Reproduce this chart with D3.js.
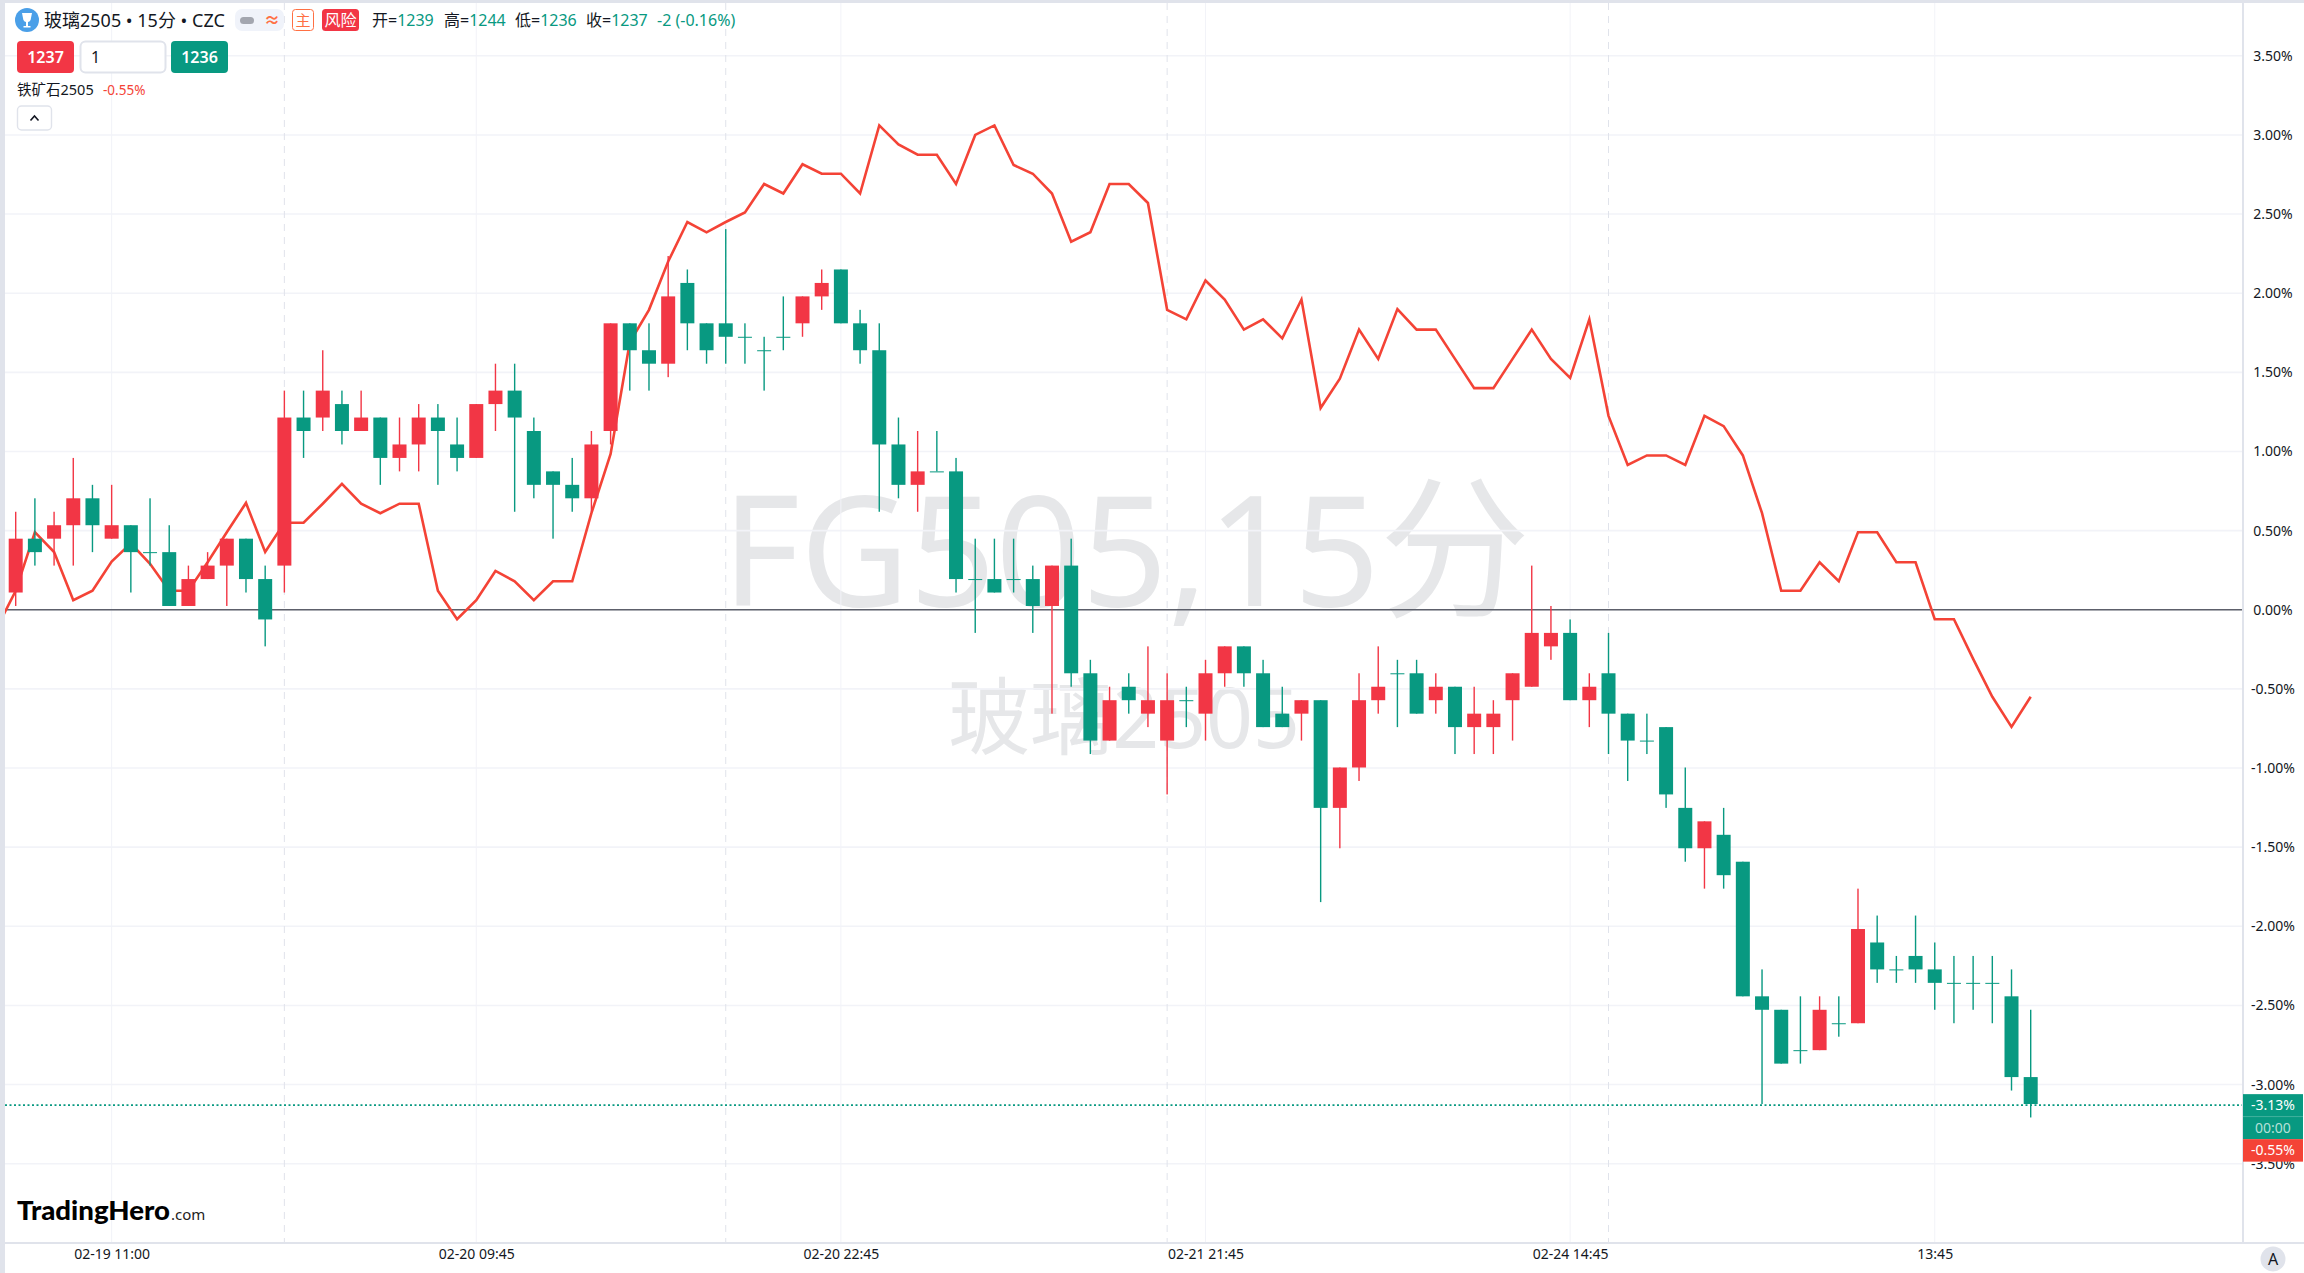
<!DOCTYPE html>
<html>
<head>
<meta charset="utf-8">
<style>
  html, body { margin: 0; padding: 0; background: #fff; }
  svg { display: block; }
  text { font-family: "Noto Sans", "Noto Sans CJK SC", sans-serif; }
</style>
<script src="https://cdn.jsdelivr.net/npm/d3@7"></script>
</head>
<body>
<div id="chart"></div>
<script>
// 玻璃2505 15分 OHLC
const opens = [1275,1279,1279,1280,1282,1279,1280,1278,1278,1274,1276,1277,1279,1276,1277,1288,1288,1289,1287,1288,
  1285,1286,1288,1286,1285,1289,1290,1287,1284,1283,1282,1287,1295,1293,1292,1298,1295,1295,1294,1293,
  1294,1295,1297,1299,1295,1293,1286,1283,1284,1284,1276,1276,1276,1276,1274,1277,1269,1264,1268,1266,
  1264,1267,1266,1269,1271,1269,1266,1266,1267,1259,1262,1267,1269,1269,1267,1268,1265,1265,1267,1268,
  1271,1272,1267,1269,1266,1264,1265,1259,1256,1257,1255,1245,1244,1241,1241,1243,1243,1249,1247,1248,
  1247,1246,1246,1246,1245,1239];
const highs = [1281,1282,1281,1285,1283,1283,1280,1282,1280,1277,1278,1279,1279,1277,1290,1290,1293,1290,1290,1288,
  1288,1289,1289,1288,1289,1292,1292,1288,1284,1285,1287,1295,1295,1295,1300,1299,1295,1302,1295,1294,
  1297,1297,1299,1299,1296,1295,1288,1287,1287,1285,1279,1279,1279,1277,1277,1279,1270,1268,1269,1271,
  1269,1268,1270,1271,1271,1270,1268,1267,1267,1262,1269,1271,1270,1270,1269,1268,1268,1267,1269,1277,
  1274,1273,1269,1272,1266,1266,1265,1262,1258,1259,1255,1247,1244,1245,1245,1245,1253,1251,1248,1251,
  1249,1248,1248,1248,1247,1244];
const lows = [1274,1277,1277,1277,1278,1279,1275,1277,1274,1274,1276,1274,1275,1271,1275,1285,1287,1286,1287,1283,
  1284,1284,1283,1284,1285,1287,1281,1282,1279,1281,1281,1286,1290,1290,1291,1293,1292,1292,1292,1290,
  1293,1294,1296,1295,1292,1281,1282,1281,1284,1275,1272,1275,1275,1272,1266,1268,1263,1264,1266,1265,
  1260,1265,1264,1268,1268,1265,1265,1264,1252,1256,1261,1266,1265,1266,1266,1263,1263,1263,1264,1268,
  1270,1267,1265,1263,1261,1263,1259,1255,1253,1253,1245,1237,1240,1240,1241,1242,1243,1246,1246,1246,
  1244,1243,1244,1243,1238,1236];
const closes = [1279,1278,1280,1282,1280,1280,1278,1278,1274,1276,1277,1279,1276,1273,1288,1287,1290,1287,1288,1285,
  1286,1288,1287,1285,1289,1290,1288,1283,1283,1282,1286,1295,1293,1292,1297,1295,1293,1294,1294,1293,
  1294,1297,1298,1295,1293,1286,1283,1284,1284,1276,1276,1275,1276,1274,1277,1269,1264,1267,1267,1267,
  1267,1267,1269,1271,1269,1265,1265,1267,1259,1262,1267,1268,1269,1266,1268,1265,1266,1266,1269,1272,
  1272,1267,1268,1266,1264,1264,1260,1256,1258,1254,1245,1244,1240,1241,1244,1243,1250,1247,1247,1247,
  1246,1246,1246,1246,1239,1237];

// 铁矿石2505 percent, first value is the bar just left of the visible range
const ironOre = [-0.12,0.12,0.49,0.365,0.06,0.12,0.305,0.42,0.29,0.12,0.12,0.30,0.49,0.675,0.365,0.55,0.55,0.67,0.795,0.67,
  0.61,0.67,0.67,0.12,-0.06,0.06,0.245,0.18,0.06,0.18,0.18,0.61,0.985,1.69,1.895,2.2,2.45,2.385,2.45,2.51,
  2.69,2.63,2.815,2.755,2.755,2.63,3.06,2.94,2.875,2.875,2.69,3.0,3.06,2.81,2.755,2.63,2.325,2.385,2.69,2.69,
  2.57,1.895,1.835,2.08,1.96,1.77,1.835,1.715,1.96,1.275,1.46,1.77,1.585,1.9,1.77,1.77,1.585,1.40,1.40,1.585,
  1.77,1.585,1.465,1.835,1.225,0.915,0.975,0.975,0.915,1.225,1.16,0.975,0.61,0.12,0.12,0.30,0.18,0.49,0.49,0.30,
  0.30,-0.06,-0.06,-0.31,-0.55,-0.74,-0.55];

const pctTicks = [3.5,3,2.5,2,1.5,1,0.5,0,-0.5,-1,-1.5,-2,-2.5,-3,-3.5];
const timeTickBars = [5,24,43,62,81,100];
const timeLabels = ["02-19 11:00","02-20 09:45","02-20 22:45","02-21 21:45","02-24 14:45","13:45"];
const sessionBars = [14,37,60,83];
const lastPct = -3.13, lastComparePct = -0.55;

const width = 2304, height = 1273;
const plotLeft = 5, plotRight = 2242, plotTop = 3, plotBottom = 1242;
const upColor = "#f23645", downColor = "#089981", lineColor = "#f44336", gridColor = "#f2f3f8", borderColor = "#e0e3eb";

const x = d3.scaleLinear().domain([0, 105]).range([15.7, 2030.7]);
const yPct = d3.scaleLinear().domain([3.5, -3.5]).range([55.8, 1163.7]);
const yPrice = d3.scaleLinear().domain([1237, 1277]).range([1104, 565.6]);

const svg = d3.select("#chart").append("svg")
    .attr("width", width)
    .attr("height", height);

svg.append("rect").attr("width", width).attr("height", height).attr("fill", "#fff");

svg.append("defs").append("clipPath").attr("id", "plot")
  .append("rect")
    .attr("x", plotLeft).attr("y", plotTop)
    .attr("width", plotRight - plotLeft).attr("height", plotBottom - plotTop);

const plot = svg.append("g").attr("clip-path", "url(#plot)");

// watermark
plot.append("text")
    .attr("x", 722).attr("y", 606)
    .attr("font-size", 154)
    .attr("textLength", 808).attr("lengthAdjust", "spacingAndGlyphs")
    .attr("fill", "#e6e7e9")
    .text("FG505,15分");
plot.append("text")
    .attr("x", 948).attr("y", 748)
    .attr("font-size", 84)
    .attr("textLength", 352).attr("lengthAdjust", "spacingAndGlyphs")
    .attr("fill", "#e6e7e9")
    .text("玻璃2505");

// grid
plot.selectAll("line.hgrid").data(pctTicks).join("line")
    .attr("class", "hgrid")
    .attr("x1", plotLeft).attr("x2", plotRight)
    .attr("y1", d => yPct(d)).attr("y2", d => yPct(d))
    .attr("stroke", gridColor).attr("stroke-width", 1.6);
plot.selectAll("line.vgrid").data(timeTickBars).join("line")
    .attr("class", "vgrid")
    .attr("x1", d => x(d)).attr("x2", d => x(d))
    .attr("y1", plotTop).attr("y2", plotBottom)
    .attr("stroke", gridColor).attr("stroke-width", 1);
plot.selectAll("line.session").data(sessionBars).join("line")
    .attr("class", "session")
    .attr("x1", d => x(d)).attr("x2", d => x(d))
    .attr("y1", plotTop).attr("y2", plotBottom)
    .attr("stroke", borderColor).attr("stroke-width", 1)
    .attr("stroke-dasharray", "7 6");

plot.append("line")
    .attr("x1", plotLeft).attr("x2", plotRight)
    .attr("y1", yPct(0)).attr("y2", yPct(0))
    .attr("stroke", "#5d606b").attr("stroke-width", 1.3);

// compare line
const line = d3.line().x((d, i) => x(i - 1)).y(d => yPct(d));
plot.append("path")
    .attr("d", line(ironOre))
    .attr("fill", "none")
    .attr("stroke", lineColor)
    .attr("stroke-width", 2.6);

// candles
const candle = plot.selectAll("g.candle").data(closes).join("g").attr("class", "candle");
const barColor = (d, i) => d > opens[i] ? upColor : downColor;
candle.append("rect")
    .attr("x", (d, i) => x(i) - 0.7)
    .attr("width", 1.4)
    .attr("y", (d, i) => yPrice(highs[i]))
    .attr("height", (d, i) => yPrice(lows[i]) - yPrice(highs[i]))
    .attr("fill", barColor);
candle.append("rect")
    .attr("x", (d, i) => x(i) - 7)
    .attr("width", 14)
    .attr("y", (d, i) => yPrice(Math.max(d, opens[i])))
    .attr("height", (d, i) => Math.max(1, yPrice(Math.min(d, opens[i])) - yPrice(Math.max(d, opens[i]))))
    .attr("fill", barColor);

// last price line
plot.append("line")
    .attr("x1", plotLeft).attr("x2", plotRight)
    .attr("y1", yPct(lastPct)).attr("y2", yPct(lastPct))
    .attr("stroke", downColor).attr("stroke-width", 1.6)
    .attr("stroke-dasharray", "2 2.5");

// frame
svg.append("rect").attr("width", width).attr("height", plotTop).attr("fill", borderColor);
svg.append("rect").attr("width", plotLeft).attr("height", height).attr("fill", borderColor);
svg.append("rect").attr("x", plotRight).attr("y", plotTop).attr("width", 2).attr("height", plotBottom - plotTop + 2).attr("fill", borderColor);
svg.append("rect").attr("x", plotLeft).attr("y", plotBottom).attr("width", width - plotLeft).attr("height", 2).attr("fill", borderColor);

// axes
const yAxis = svg.append("g")
    .attr("transform", `translate(${plotRight + 31},0)`)
    .call(d3.axisRight(yPct).tickValues(pctTicks).tickSize(0).tickPadding(0).tickFormat(d => d.toFixed(2) + "%"));
yAxis.select(".domain").remove();
yAxis.selectAll("text")
    .attr("text-anchor", "middle")
    .attr("font-size", 14)
    .attr("fill", "#131722")
    .style("font-family", '"Noto Sans", sans-serif');

const xAxis = svg.append("g")
    .attr("transform", "translate(0,1249)")
    .call(d3.axisBottom(x).tickValues(timeTickBars).tickSize(0).tickPadding(0).tickFormat((d, i) => timeLabels[i]));
xAxis.select(".domain").remove();
xAxis.selectAll("text")
    .attr("font-size", 14)
    .attr("fill", "#131722")
    .style("font-family", '"Noto Sans", sans-serif');

// price tags
const tagX = plotRight + 1, tagW = 60, tagH = 22.5;
const tagMid = yPct(lastPct);
const tags = [
  {label: lastPct.toFixed(2) + "%", y: tagMid - 11, fill: downColor, text: "#fff"},
  {label: "00:00", y: tagMid - 11 + tagH, fill: downColor, text: "#b5e0d8"},
  {label: lastComparePct.toFixed(2) + "%", y: tagMid - 11 + tagH * 2, fill: lineColor, text: "#fff"}
];
const tag = svg.selectAll("g.tag").data(tags).join("g").attr("class", "tag");
tag.append("rect")
    .attr("x", tagX).attr("y", d => d.y)
    .attr("width", tagW).attr("height", tagH)
    .attr("fill", d => d.fill);
tag.append("text")
    .attr("x", tagX + tagW / 2).attr("y", d => d.y + tagH / 2 + 5)
    .attr("text-anchor", "middle")
    .attr("font-size", 14)
    .attr("fill", d => d.text)
    .text(d => d.label);
svg.append("line")
    .attr("x1", tagX).attr("x2", tagX + tagW)
    .attr("y1", tagMid - 11 + tagH).attr("y2", tagMid - 11 + tagH)
    .attr("stroke", "#3bae9a").attr("stroke-width", 0.8);

// auto button
svg.append("circle").attr("cx", 2273).attr("cy", 1259).attr("r", 12.5).attr("fill", borderColor);
svg.append("text")
    .attr("x", 2273).attr("y", 1265)
    .attr("text-anchor", "middle").attr("font-size", 16)
    .attr("fill", "#131722")
    .text("A");

// legend / header
const head = svg.append("g");
head.append("circle").attr("cx", 27).attr("cy", 20).attr("r", 12).attr("fill", "#4a9fe8");
head.append("path")
    .attr("d", "M22 13 H32 L30.6 20 Q29.5 22 28 22 V26 H30.5 V27.5 H23.5 V26 H26 V22 Q24.5 22 23.4 20 Z")
    .attr("fill", "#fff");
head.append("text")
    .attr("x", 44).attr("y", 27)
    .attr("font-size", 18)
    .attr("fill", "#131722")
    .text("玻璃2505 • 15分 • CZC");

head.append("rect").attr("x", 235).attr("y", 9).attr("width", 49).attr("height", 22).attr("rx", 7).attr("fill", "#f0f3fa");
head.append("rect").attr("x", 240).attr("y", 17).attr("width", 14).attr("height", 7).attr("rx", 3.5).attr("fill", "#a3a6af");
head.append("text")
    .attr("x", 272).attr("y", 26).attr("text-anchor", "middle")
    .attr("font-size", 16).attr("font-weight", 700).attr("fill", "#ff7043")
    .text("≈");
head.append("rect").attr("x", 292.5).attr("y", 9.5).attr("width", 21).attr("height", 21).attr("rx", 3)
    .attr("fill", "#fff").attr("stroke", "#ff7043");
head.append("text")
    .attr("x", 303).attr("y", 25.5).attr("text-anchor", "middle")
    .attr("font-size", 15).attr("fill", "#ff7043")
    .text("主");
head.append("rect").attr("x", 322).attr("y", 9).attr("width", 37).attr("height", 22).attr("rx", 3.5).attr("fill", upColor);
head.append("text")
    .attr("x", 340.5).attr("y", 25.5).attr("text-anchor", "middle")
    .attr("font-size", 16).attr("fill", "#fff")
    .text("风险");

const ohlcItems = [["开=", "1239", 372], ["高=", "1244", 444], ["低=", "1236", 515], ["收=", "1237", 586]];
const ohlc = head.selectAll("text.ohlc").data(ohlcItems).join("text")
    .attr("class", "ohlc")
    .attr("x", d => d[2]).attr("y", 26)
    .attr("font-size", 16)
    .attr("fill", "#131722");
ohlc.append("tspan").text(d => d[0]);
ohlc.append("tspan").attr("fill", downColor).text(d => d[1]);
head.append("text")
    .attr("x", 657).attr("y", 26)
    .attr("font-size", 16).attr("fill", downColor)
    .text("-2 (-0.16%)");

// order buttons
head.append("rect").attr("x", 17).attr("y", 41).attr("width", 57).attr("height", 32).attr("rx", 4).attr("fill", upColor);
head.append("text").attr("x", 45.5).attr("y", 62.5).attr("text-anchor", "middle")
    .attr("font-size", 16).attr("font-weight", 600).attr("fill", "#fff").text("1237");
head.append("rect").attr("x", 80.5).attr("y", 41.5).attr("width", 85).attr("height", 31).attr("rx", 5)
    .attr("fill", "#fff").attr("stroke", borderColor).attr("stroke-width", 2);
head.append("text").attr("x", 91).attr("y", 62.5).attr("font-size", 16).attr("fill", "#131722").text("1");
head.append("rect").attr("x", 171).attr("y", 41).attr("width", 57).attr("height", 32).attr("rx", 4).attr("fill", downColor);
head.append("text").attr("x", 199.5).attr("y", 62.5).attr("text-anchor", "middle")
    .attr("font-size", 16).attr("font-weight", 600).attr("fill", "#fff").text("1236");

head.append("text").attr("x", 17).attr("y", 94.5).attr("font-size", 14.5).attr("fill", "#131722").text("铁矿石2505");
head.append("text").attr("x", 103).attr("y", 94.5).attr("font-size", 13.5).attr("fill", lineColor).text("-0.55%");

head.append("rect").attr("x", 17.5).attr("y", 106).attr("width", 34).attr("height", 24).attr("rx", 4)
    .attr("fill", "#fff").attr("stroke", borderColor).attr("stroke-width", 1.4);
head.append("path").attr("d", "M30.5 120.5 L34.5 116 L38.5 120.5")
    .attr("fill", "none").attr("stroke", "#131722").attr("stroke-width", 1.6);

// logo
const logo = svg.append("g");
logo.append("text")
    .attr("x", 17).attr("y", 1220)
    .attr("textLength", 153).attr("lengthAdjust", "spacingAndGlyphs")
    .style("font-family", "Lato, sans-serif")
    .attr("font-size", 26).attr("font-weight", 900)
    .attr("fill", "#000")
    .text("TradingHero");
logo.append("text")
    .attr("x", 171).attr("y", 1220)
    .attr("font-size", 15).attr("fill", "#222")
    .text(".com");
</script>
</body>
</html>
